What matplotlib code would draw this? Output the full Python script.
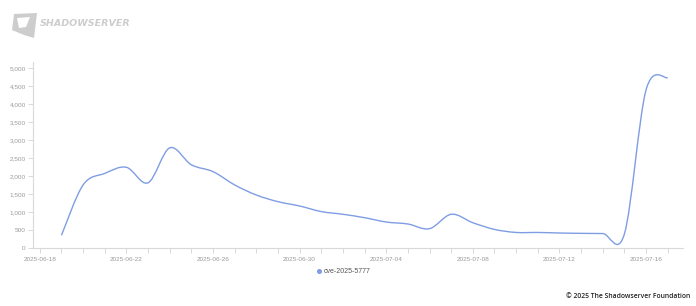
import datetime as dt
import numpy as np
import matplotlib
matplotlib.use("Agg")
import matplotlib.pyplot as plt
import matplotlib.dates as mdates
from matplotlib.path import Path
from matplotlib.patches import PathPatch, Polygon
from matplotlib.lines import Line2D

# daily counts for cve-2025-5777
start_day = dt.date(2025, 6, 19)
counts = [360, 1760, 2080, 2250, 1820, 2790, 2320, 2130, 1760, 1480,
          1295, 1175, 1020, 945, 850, 730, 675, 545, 945, 710,
          525, 440, 440, 425, 415, 410, 400, 4400, 4740]
series_name = "cve-2025-5777"
y_ticks = list(range(0, 5001, 500))
days = [start_day + dt.timedelta(days=i) for i in range(len(counts))]

line_color = "#7f9de3"
axis_color = "#d9d9d9"
label_color = "#9a9a9a"

fig = plt.figure(figsize=(6.96, 3.06), dpi=100)
ax = fig.add_axes([33.3 / 696, 1 - 248.3 / 306, 650 / 696, 186.6 / 306])

x0 = mdates.date2num(dt.date(2025, 6, 18))
ax.set_xlim(x0 - 0.3, x0 + 29.72)
ax.set_ylim(0, 5183)

# cardinal spline (tension 0) through the daily points, end points repeated
pts = np.column_stack([mdates.date2num(days), counts]).astype(float)
ext = np.vstack([pts[:1], pts, pts[-1:]])
verts = [pts[0]]
codes = [Path.MOVETO]
for i in range(1, len(ext) - 2):
    c1 = ext[i] + (ext[i + 1] - ext[i - 1]) / 6
    c2 = ext[i + 1] - (ext[i + 2] - ext[i]) / 6
    verts += [c1, c2, ext[i + 1]]
    codes += [Path.CURVE4] * 3
ax.add_patch(PathPatch(Path(np.array(verts), codes), fill=False,
                       edgecolor=line_color, lw=1.0))

# axes styling
for s in ["top", "right"]:
    ax.spines[s].set_visible(False)
for s in ["left", "bottom"]:
    ax.spines[s].set_color(axis_color)
    ax.spines[s].set_linewidth(0.8)

ax.set_yticks(y_ticks)
ax.set_yticklabels([f"{v:,}" for v in y_ticks])
ax.xaxis.set_major_formatter(mdates.DateFormatter("%Y-%m-%d"))
ax.xaxis.set_minor_locator(mdates.DayLocator())
ax.set_xticks([x0 + 4 * i for i in range(8)])

ax.tick_params(axis="both", which="both", colors=axis_color, length=3.5, width=0.7,
               labelcolor=label_color, labelsize=4.6)
ax.tick_params(axis="y", pad=2)
ax.tick_params(axis="x", pad=3)
for lab in ax.get_xticklabels() + ax.get_yticklabels():
    lab.set_fontfamily("Liberation Sans")

# legend
fig.add_artist(Line2D([319 / 696], [1 - 271 / 306], marker="o", markersize=2.6,
                      color=line_color, transform=fig.transFigure))
fig.text(324 / 696, 1 - 271.5 / 306, series_name, fontsize=5, color="#555555",
         family="Liberation Sans", va="center", ha="left")

# footer
fig.text(690 / 696, 1 - 296 / 306, "© 2025 The Shadowserver Foundation", fontsize=4.9,
         color="#222222", family="Open Sans", weight="semibold", ha="right", va="center")

# logo
logo_gray = "#cdcdcd"
fig.add_artist(Polygon([[14 / 696, 1 - 14 / 306], [37 / 696, 1 - 13 / 306],
                        [34 / 696, 1 - 38 / 306], [24 / 696, 1 - 35 / 306],
                        [12 / 696, 1 - 30 / 306]],
                       closed=True, facecolor=logo_gray, edgecolor="none",
                       transform=fig.transFigure))
fig.add_artist(Polygon([[17 / 696, 1 - 18 / 306], [30 / 696, 1 - 17 / 306],
                        [26 / 696, 1 - 27 / 306], [19 / 696, 1 - 28 / 306]],
                       closed=True, facecolor="white", edgecolor="none",
                       transform=fig.transFigure))
fig.text(40 / 696, 1 - 24 / 306, "SHADOWSERVER", fontsize=6.8, color=logo_gray,
         family="DejaVu Sans", weight="bold", style="italic", va="center", ha="left")

fig.savefig("out.png", dpi=100)
